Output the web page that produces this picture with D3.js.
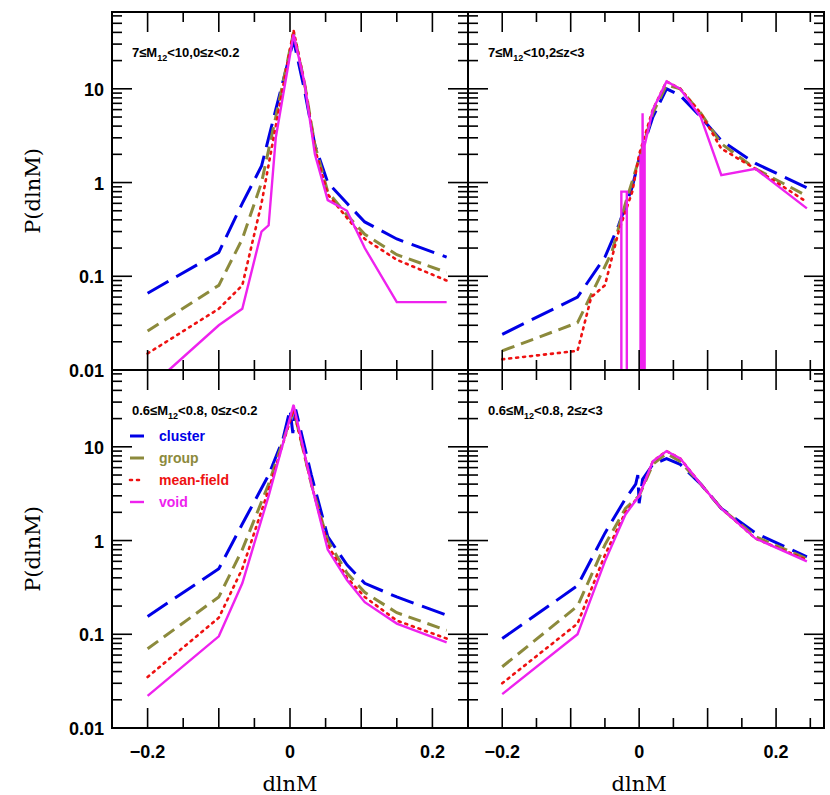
<!DOCTYPE html>
<html><head><meta charset="utf-8">
<script src="https://cdn.jsdelivr.net/npm/d3@7"></script>
<style>body{margin:0;background:#fff}svg{display:block}</style>
</head><body>
<svg id="c" width="830" height="795"></svg>
<script>
// panel titles
var titles = [["7≤M","12","<10,0≤z<0.2"], ["7≤M","12","<10,2≤z<3"], ["0.6≤M","12","<0.8, 0≤z<0.2"], ["0.6≤M","12","<0.8, 2≤z<3"]];
var seriesNames = ["cluster", "group", "mean-field", "void"];
var yTickVals = [0.01, 0.1, 1, 10];
var yTickLabels = ["0.01", "0.1", "1", "10"];
var xTickVals = [-0.2, 0, 0.2];
var xDomains = [[-0.25, 0.25], [-0.25, 0.27]];

// top-left: 7<=M<10, 0<=z<0.2
var tl_cluster_x = [-0.2, -0.1, -0.067, -0.04, -0.02, 0.005, 0.02, 0.035, 0.053, 0.08, 0.105, 0.15, 0.22];
var tl_cluster_y = [0.066, 0.18, 0.6, 1.5, 6, 33, 10, 2.5, 1.0, 0.6, 0.38, 0.25, 0.16];
var tl_group_x = [-0.2, -0.1, -0.067, -0.04, -0.02, 0.005, 0.02, 0.035, 0.053, 0.08, 0.105, 0.15, 0.22];
var tl_group_y = [0.026, 0.08, 0.25, 1.0, 5, 40, 12, 2.5, 0.8, 0.45, 0.28, 0.17, 0.11];
var tl_mean_x = [-0.2, -0.1, -0.067, -0.04, -0.02, 0.005, 0.02, 0.035, 0.053, 0.08, 0.105, 0.15, 0.22];
var tl_mean_y = [0.015, 0.045, 0.08, 0.6, 4, 42, 12, 2.3, 0.75, 0.42, 0.25, 0.15, 0.09];
var tl_void_x = [-0.17, -0.1, -0.067, -0.04, -0.03, -0.02, 0.005, 0.02, 0.035, 0.053, 0.08, 0.105, 0.15, 0.22];
var tl_void_y = [0.01, 0.03, 0.045, 0.3, 0.35, 3, 38, 12, 2, 0.65, 0.5, 0.2, 0.053, 0.053];

// top-right: 7<=M<10, 2<=z<3
var tr_cluster_x = [-0.2, -0.09, -0.05, -0.03, -0.01, 0, 0.01, 0.02, 0.04, 0.06, 0.09, 0.12, 0.17, 0.245];
var tr_cluster_y = [0.024, 0.06, 0.16, 0.35, 0.9, 1.8, 3, 5, 10, 8.5, 5, 2.8, 1.6, 0.88];
var tr_group_x = [-0.2, -0.09, -0.06, -0.04, -0.02, 0, 0.02, 0.04, 0.06, 0.09, 0.12, 0.17, 0.245];
var tr_group_y = [0.016, 0.032, 0.09, 0.18, 0.6, 1.8, 5.5, 11, 10, 5.5, 2.6, 1.4, 0.72];
var tr_mean_x = [-0.2, -0.09, -0.07, -0.05, -0.03, -0.01, 0, 0.02, 0.04, 0.06, 0.09, 0.12, 0.17, 0.245];
var tr_mean_y = [0.013, 0.016, 0.06, 0.08, 0.3, 0.8, 2, 6, 12, 10, 5.5, 2.3, 1.4, 0.62];
var tr_void_x = [-0.026, -0.026, -0.018, -0.018, 0.002, 0.002, 0.005, 0.005, 0.008, 0.008, 0.02, 0.04, 0.06, 0.09, 0.12, 0.17, 0.245];
var tr_void_y = [0.001, 0.8, 0.8, 0.001, 0.001, 2, 0.001, 5.5, 0.001, 2.5, 6, 12, 10, 5, 1.2, 1.4, 0.53];

// bottom-left: 0.6<=M<0.8, 0<=z<0.2
var bl_cluster_x = [-0.2, -0.1, -0.067, -0.03, -0.01, 0, 0.004, 0.008, 0.03, 0.053, 0.08, 0.105, 0.15, 0.22];
var bl_cluster_y = [0.155, 0.5, 1.5, 5, 12, 25, 14, 25, 5, 1.1, 0.55, 0.35, 0.25, 0.16];
var bl_group_x = [-0.2, -0.1, -0.067, -0.03, 0.005, 0.03, 0.053, 0.08, 0.105, 0.15, 0.22];
var bl_group_y = [0.07, 0.25, 0.8, 4, 25, 4, 1, 0.45, 0.28, 0.17, 0.11];
var bl_mean_x = [-0.2, -0.1, -0.067, -0.03, 0.005, 0.03, 0.053, 0.08, 0.105, 0.15, 0.22];
var bl_mean_y = [0.035, 0.15, 0.5, 3.5, 25, 4, 0.9, 0.4, 0.25, 0.14, 0.09];
var bl_void_x = [-0.2, -0.1, -0.067, -0.03, 0.005, 0.03, 0.053, 0.08, 0.105, 0.15, 0.22];
var bl_void_y = [0.022, 0.095, 0.35, 3, 28, 4, 0.8, 0.38, 0.22, 0.13, 0.082];

// bottom-right: 0.6<=M<0.8, 2<=z<3
var br_cluster_x = [-0.2, -0.09, -0.05, -0.02, -0.005, -0.002, 0, 0.005, 0.02, 0.04, 0.06, 0.09, 0.12, 0.17, 0.245];
var br_cluster_y = [0.09, 0.33, 1.2, 2.8, 4, 5, 2.5, 4.5, 6.5, 7.5, 6.5, 4, 2.2, 1.2, 0.67];
var br_group_x = [-0.2, -0.09, -0.05, -0.02, 0, 0.02, 0.04, 0.06, 0.09, 0.12, 0.17, 0.245];
var br_group_y = [0.045, 0.2, 0.9, 2.2, 3, 6.5, 8.5, 7, 4, 2.2, 1.1, 0.64];
var br_mean_x = [-0.2, -0.09, -0.05, -0.02, 0, 0.02, 0.04, 0.06, 0.09, 0.12, 0.17, 0.245];
var br_mean_y = [0.03, 0.13, 0.7, 2, 3, 7, 9, 7.5, 4, 2.2, 1.05, 0.62];
var br_void_x = [-0.2, -0.09, -0.05, -0.02, 0, 0.02, 0.04, 0.06, 0.09, 0.12, 0.17, 0.245];
var br_void_y = [0.023, 0.1, 0.6, 1.9, 3, 7, 9, 7.5, 4, 2.2, 1.05, 0.6];

var panels = [
  [[tl_cluster_x, tl_cluster_y], [tl_group_x, tl_group_y], [tl_mean_x, tl_mean_y], [tl_void_x, tl_void_y]],
  [[tr_cluster_x, tr_cluster_y], [tr_group_x, tr_group_y], [tr_mean_x, tr_mean_y], [tr_void_x, tr_void_y]],
  [[bl_cluster_x, bl_cluster_y], [bl_group_x, bl_group_y], [bl_mean_x, bl_mean_y], [bl_void_x, bl_void_y]],
  [[br_cluster_x, br_cluster_y], [br_group_x, br_group_y], [br_mean_x, br_mean_y], [br_void_x, br_void_y]]
];

var colors = ["#0000e6", "#8c8a3c", "#ee1111", "#ee22ee"];
var dashes = ["24,9", "13,7", "2,5", null];
var widths = [3, 3, 2.6, 2.4];

var svg = d3.select("#c");
var L = 112, T = 12, W = 356, H = 358;

var defs = svg.append("defs");

panels.forEach(function(p, i) {
  var col = i % 2, row = Math.floor(i / 2);
  var x0 = L + col * W, y0 = T + row * H;
  var x = d3.scaleLinear().domain(xDomains[col]).range([x0, x0 + W]);
  var y = d3.scaleLog().domain([0.01, 66]).range([y0 + H, y0]);

  defs.append("clipPath").attr("id", "clip" + i).append("rect")
    .attr("x", x0).attr("y", y0).attr("width", W).attr("height", H);

  var g = svg.append("g").attr("clip-path", "url(#clip" + i + ")");
  p.forEach(function(s, k) {
    var pts = s[0].map(function(v, j) { return [v, s[1][j]]; });
    g.append("path")
      .attr("d", d3.line().x(function(d){ return x(d[0]); }).y(function(d){ return y(d[1]); })(pts))
      .attr("fill", "none").attr("stroke", colors[k]).attr("stroke-width", widths[k])
      .attr("stroke-dasharray", dashes[k])
      .attr("stroke-linecap", k == 2 ? "round" : "butt");
  });

  // ticks
  var tk = svg.append("g").attr("stroke", "#000").attr("stroke-width", 1.6);
  for (var e = -2; e <= 1; e++) {
    for (var m = 1; m <= 9; m++) {
      var v = m * Math.pow(10, e);
      if (v > 66) continue;
      var len = m == 1 ? 20 : 10;
      tk.append("line").attr("x1", x0).attr("x2", x0 + len).attr("y1", y(v)).attr("y2", y(v));
      tk.append("line").attr("x1", x0 + W).attr("x2", x0 + W - len).attr("y1", y(v)).attr("y2", y(v));
    }
  }
  for (var t = -0.2; t <= 0.26; t += 0.05) {
    var tv = Math.round(t * 100) / 100;
    if (tv >= xDomains[col][1]) continue;
    var tl = Math.abs(Math.round(tv * 10) - tv * 10) < 1e-6 ? 20 : 10;
    tk.append("line").attr("x1", x(tv)).attr("x2", x(tv)).attr("y1", y0 + H).attr("y2", y0 + H - tl);
    tk.append("line").attr("x1", x(tv)).attr("x2", x(tv)).attr("y1", y0).attr("y2", y0 + tl);
  }

  // title
  var tt = svg.append("text").attr("x", x0 + 20).attr("y", y0 + 45)
    .attr("font-family", "Liberation Sans, Arial, sans-serif").attr("font-weight", "bold").attr("font-size", 13);
  tt.append("tspan").text(titles[i][0]);
  tt.append("tspan").attr("font-size", 9).attr("dy", 4).text(titles[i][1]);
  tt.append("tspan").attr("dy", -4).text(titles[i][2]);

  if (col == 0) {
    yTickVals.forEach(function(v, j) {
      svg.append("text").attr("x", x0 - 8).attr("y", y(v) + 7).attr("text-anchor", "end")
        .attr("font-family", "Liberation Sans, Arial, sans-serif").attr("font-weight", "bold").attr("font-size", 18)
        .text(yTickLabels[j]);
    });
    svg.append("text").attr("transform", "translate(" + 40 + "," + (y0 + H / 2) + ") rotate(-90)")
      .attr("text-anchor", "middle").attr("font-family", "DejaVu Serif, serif").attr("font-size", 21)
      .text("P(dlnM)");
  }
  if (row == 1) {
    xTickVals.forEach(function(v) {
      svg.append("text").attr("x", x(v)).attr("y", y0 + H + 30).attr("text-anchor", "middle")
        .attr("font-family", "Liberation Sans, Arial, sans-serif").attr("font-weight", "bold").attr("font-size", 18)
        .text(v == 0 ? "0" : d3.format(".1f")(v).replace("-", "\u2212"));
    });
    svg.append("text").attr("x", x(0)).attr("y", y0 + H + 63).attr("text-anchor", "middle")
      .attr("font-family", "DejaVu Serif, serif").attr("font-size", 21).text("dlnM");
  }

  svg.append("rect").attr("x", x0).attr("y", y0).attr("width", W).attr("height", H)
    .attr("fill", "none").attr("stroke", "#000").attr("stroke-width", 2);

  // legend in bottom-left panel
  if (i == 2) {
    seriesNames.forEach(function(n, k) {
      var ly = y0 + 66 + k * 22;
      svg.append("line").attr("x1", x0 + 18).attr("x2", x0 + 32).attr("y1", ly).attr("y2", ly)
        .attr("stroke", colors[k]).attr("stroke-width", widths[k])
        .attr("stroke-dasharray", k == 2 ? "2,5" : null)
        .attr("stroke-linecap", k == 2 ? "round" : "butt");
      svg.append("text").attr("x", x0 + 47).attr("y", ly + 5).attr("fill", colors[k])
        .attr("font-family", "Liberation Sans, Arial, sans-serif").attr("font-weight", "bold").attr("font-size", 14)
        .text(n);
    });
  }
});
</script>
</body></html>
